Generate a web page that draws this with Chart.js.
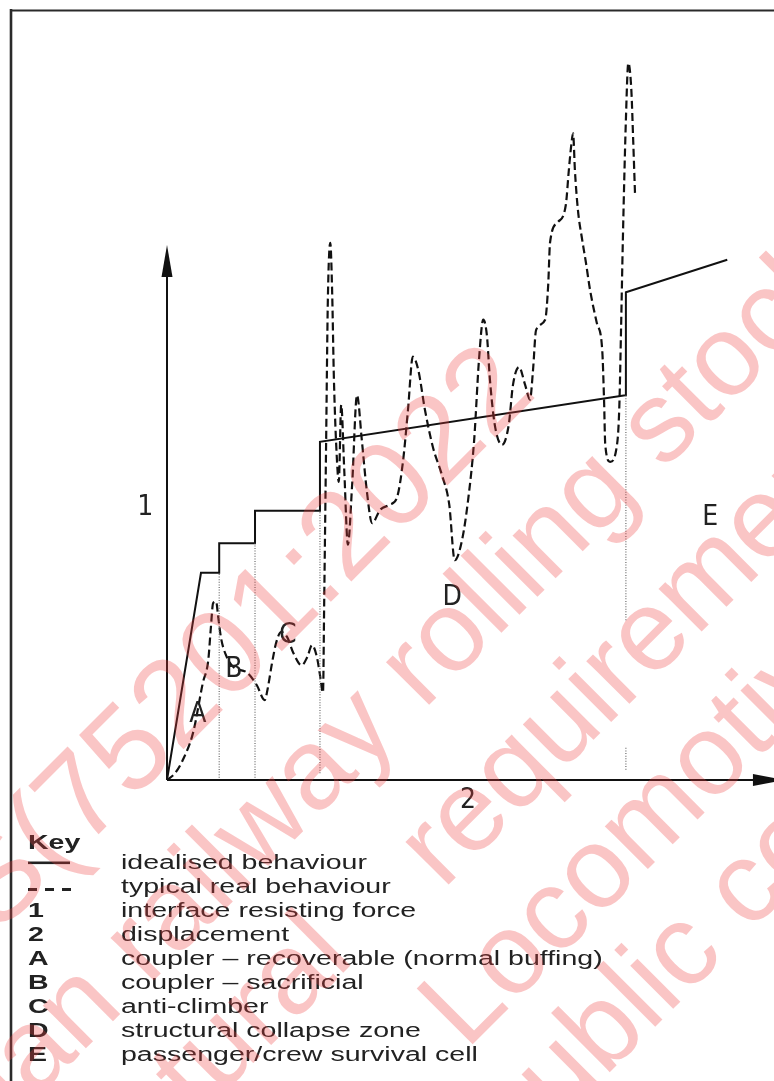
<!DOCTYPE html>
<html><head><meta charset="utf-8">
<script src="https://cdn.jsdelivr.net/npm/chart.js@4"></script>
<style>
html,body{margin:0;padding:0;background:#fff;width:774px;height:1081px;overflow:hidden;}
#wrap{position:relative;width:774px;height:1081px;}
#c{position:absolute;left:0;top:0;}
svg{position:absolute;left:0;top:0;}
</style></head><body>
<div id="wrap">
<canvas id="c" width="774" height="830"></canvas>
<svg id="key" width="774" height="1081"></svg>
<svg id="wm" width="774" height="1081"></svg>
</div>
<script>
// ---- data (displacement units / force units) ----
const idealX = [0, 5.6, 8.6, 8.6, 14.5, 14.5, 25.2, 25.2, 75.5, 75.6, 92.3];
const idealY = [0, 28.0, 28.0, 32.0, 32.0, 36.4, 36.4, 45.7, 52.0, 65.9, 70.3];

const realX = [0,1.3,2.6,4.3,5.9,6.8,7.2,7.6,8.1,8.4,
  8.9,9.7,10.9,13.2,14.8,16.1,16.6,17.3,18.0,18.8,
  19.8,20.8,22.2,23.1,23.9,24.7,25.2,25.7,25.9,26.2,
  26.5,26.9,27.2,27.5,28.0,28.3,28.7,29.2,29.8,30.5,
  31.3,32.1,32.9,33.8,35.1,36.7,37.9,38.9,39.7,40.5,
  41.4,42.5,43.8,45.3,46.5,47.4,48.6,49.6,50.6,51.4,
  52.1,52.7,53.2,54.0,55.2,56.3,57.0,58.0,59.0,59.8,
  60.3,60.8,62.3,62.8,63.1,64.4,65.7,66.2,66.6,66.9,
  67.2,67.7,68.4,69.0,69.7,70.8,71.7,72.0,72.2,73.0,
  74.0,74.5,74.8,75.1,75.6,76.0,76.5,76.8,77.1];
const realY = [0,0.9,2.7,6.4,13.1,16.2,20.3,23.9,24.1,22.3,
  19.2,16.9,15.3,14.5,12.8,10.8,12.4,15.8,18.6,20.0,
  19.3,17.2,15.5,16.6,18.2,16.6,14.2,11.8,24.3,44.6,
  64.9,72.6,66.2,54.1,43.2,40.3,50.7,41.9,31.8,39.9,
  52.0,45.9,39.2,34.7,36.5,37.2,38.2,43.2,50.0,57.2,
  55.4,50.0,45.0,41.2,37.2,29.7,32.4,37.8,45.9,56.8,
  62.2,60.1,54.1,48.0,45.3,48.0,53.4,55.8,53.4,51.4,
  55.4,60.8,62.2,66.9,72.6,75.4,77.7,82.4,85.8,87.4,
  82.4,77.0,73.0,70.0,66.2,61.8,58.1,51.4,45.3,43.0,
  44.6,50.0,60.8,73.0,89.2,96.9,93.2,86.5,79.3];

const zoneX    = [8.6, 14.5, 25.2, 75.6, 75.6];
const zoneFrom = [0.3, 0.3, 0.9, 21.6, 1.4];
const zoneTo   = [28.0, 32.0, 36.4, 52.0, 4.5];

const axisXEnd = 101.8;
const axisYEnd = 72.3;

const regionLabels = ['A', 'B', 'C', 'D', 'E'];
const regionLabelX = [5.1, 11.0, 19.9, 47.0, 89.5];
const regionLabelY = [8.8, 14.9, 19.5, 24.7, 35.5];
const axisLabels = ['1', '2'];
const axisLabelX = [-3.6, 49.6];
const axisLabelY = [36.8, -2.8];

const keyTitle = 'Key';
const keySymbols = ['', '', '1', '2', 'A', 'B', 'C', 'D', 'E'];
const keyTexts = ['idealised behaviour', 'typical real behaviour', 'interface resisting force',
  'displacement', 'coupler \u2013 recoverable (normal buffing)', 'coupler \u2013 sacrificial',
  'anti-climber', 'structural collapse zone', 'passenger/crew survival cell'];

const wmTexts = ['IS(75201:2022', 'Indian railway rolling stock', 'structural', 'requirements',
  'Locomotive', 'public copy'];
const wmX = [-27, -96.2, 21.5, 442.9, 466, 514];
const wmY = [959.8, 1230.4, 1294.7, 890.3, 1051, 1168];
const wmSize = [122, 115, 115, 115, 115, 115];

// ---- chart ----
const pts = (xs, ys) => xs.map((x, i) => ({x: x, y: ys[i]}));
const zonePts = [];
zoneX.forEach((x, i) => { zonePts.push({x: x, y: zoneFrom[i]}, {x: x, y: zoneTo[i]}, {x: x, y: null}); });

const decor = {
  id: 'decor',
  afterDatasetsDraw(chart) {
    const c = chart.ctx, xs = chart.scales.x, ys = chart.scales.y;
    c.save();
    c.fillStyle = '#111';
    const yx = xs.getPixelForValue(0), yt = ys.getPixelForValue(axisYEnd);
    c.beginPath(); c.moveTo(yx, yt); c.lineTo(yx - 5.5, yt + 32); c.lineTo(yx + 5.5, yt + 32); c.closePath(); c.fill();
    const xt = xs.getPixelForValue(axisXEnd), xy = ys.getPixelForValue(0);
    c.beginPath(); c.moveTo(xt, xy); c.lineTo(xt - 32, xy - 6); c.lineTo(xt - 32, xy + 6); c.closePath(); c.fill();
    c.font = '28px "Liberation Sans Narrow", "DejaVu Sans Condensed", "Liberation Sans", sans-serif';
    c.textAlign = 'center'; c.textBaseline = 'middle'; c.fillStyle = '#222';
    regionLabels.forEach((t, i) => c.fillText(t, xs.getPixelForValue(regionLabelX[i]), ys.getPixelForValue(regionLabelY[i])));
    axisLabels.forEach((t, i) => c.fillText(t, xs.getPixelForValue(axisLabelX[i]), ys.getPixelForValue(axisLabelY[i])));
    c.restore();
  }
};

new Chart(document.getElementById('c').getContext('2d'), {
  type: 'scatter',
  data: { datasets: [
    {label: 'x axis', data: [{x: 0, y: 0}, {x: axisXEnd - 2, y: 0}], showLine: true, borderColor: '#111', borderWidth: 2, pointRadius: 0, clip: false},
    {label: 'y axis', data: [{x: 0, y: 0}, {x: 0, y: axisYEnd - 3}], showLine: true, borderColor: '#111', borderWidth: 2, pointRadius: 0, clip: false},
    {label: 'zones', data: zonePts, showLine: true, spanGaps: false, borderColor: '#6a6a6a', borderWidth: 1.2, borderDash: [1, 1.6], pointRadius: 0, clip: false},
    {label: 'idealised behaviour', data: pts(idealX, idealY), showLine: true, borderColor: '#111', borderWidth: 2, pointRadius: 0, clip: false},
    {label: 'typical real behaviour', data: pts(realX, realY), showLine: true, borderColor: '#111', borderWidth: 2.2, borderDash: [8, 4], pointRadius: 0, cubicInterpolationMode: 'monotone', clip: false}
  ]},
  options: {
    responsive: false, animation: false, devicePixelRatio: 1, events: [],
    layout: {padding: {left: 167, right: 0, top: 40, bottom: 50}},
    scales: {
      x: {type: 'linear', min: 0, max: 100, display: false},
      y: {type: 'linear', min: 0, max: 100, display: false}
    },
    plugins: {legend: {display: false}, tooltip: {enabled: false}}
  },
  plugins: [decor]
});

// ---- key + frame (real svg text) ----
const NS = 'http://www.w3.org/2000/svg';
function el(svg, name, attrs, text) {
  const e = document.createElementNS(NS, name);
  for (const k in attrs) e.setAttribute(k, attrs[k]);
  if (text !== undefined) e.textContent = text;
  svg.appendChild(e); return e;
}
const key = document.getElementById('key');
el(key, 'line', {x1: 11, y1: 9, x2: 11, y2: 1081, stroke: '#2a2a2a', 'stroke-width': 2.6});
el(key, 'line', {x1: 10, y1: 10.5, x2: 774, y2: 10.5, stroke: '#2a2a2a', 'stroke-width': 2.2});
const kf = {'font-family': '"Liberation Sans", Arial, sans-serif', 'font-size': 21, fill: '#222'};
el(key, 'text', Object.assign({transform: 'translate(28,849) scale(1.36,1)', 'font-weight': 'bold'}, kf), keyTitle);
keyTexts.forEach((t, i) => {
  const y = 868.5 + i * 24;
  el(key, 'text', Object.assign({transform: 'translate(121,' + y + ') scale(1.36,1)'}, kf), t);
  if (keySymbols[i]) el(key, 'text', Object.assign({transform: 'translate(28,' + y + ') scale(1.36,1)', 'font-weight': 'bold'}, kf), keySymbols[i]);
});
el(key, 'rect', {x: 28, y: 861.5, width: 42, height: 2.6, fill: '#222'});
[28, 45, 62].forEach(x => el(key, 'rect', {x: x, y: 888, width: 9, height: 3, fill: '#222'}));

// ---- watermark ----
const wm = document.getElementById('wm');
wmTexts.forEach((t, i) => {
  el(wm, 'text', {transform: 'translate(' + wmX[i] + ',' + wmY[i] + ') rotate(-45)',
    'font-family': '"Liberation Sans", Arial, sans-serif', 'font-size': wmSize[i],
    fill: '#ee4040', 'fill-opacity': 0.3}, t);
});
</script>
</body></html>
